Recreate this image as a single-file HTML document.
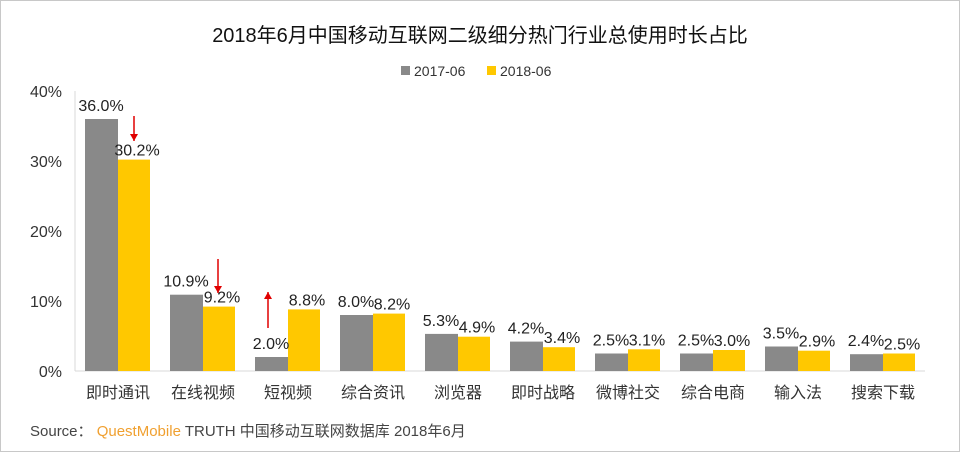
<!DOCTYPE html>
<html><head><meta charset="utf-8"><style>
body{margin:0;background:#fff;}
svg text{font-family:"Liberation Sans","Noto Sans CJK SC",sans-serif;}
</style></head><body>
<svg width="960" height="452" xmlns="http://www.w3.org/2000/svg">
<rect x="0.5" y="0.5" width="959" height="451" fill="#fff" stroke="#c8c8c8"/>
<text x="480" y="42" text-anchor="middle" font-size="20" fill="#111">2018年6月中国移动互联网二级细分热门行业总使用时长占比</text>
<g>
<rect x="401" y="66" width="9" height="9" fill="#898989"/>
<text x="414" y="76" font-size="14" fill="#333">2017-06</text>
<rect x="487" y="66" width="9" height="9" fill="#ffc800"/>
<text x="500" y="76" font-size="14" fill="#333">2018-06</text>
</g>
<g id="plot"></g>
<text x="30" y="436" font-size="15" fill="#444">Source： <tspan fill="#f0a030">QuestMobile</tspan> TRUTH 中国移动互联网数据库 2018年6月</text>
</svg>
<script>
const categories=["即时通讯","在线视频","短视频","综合资讯","浏览器","即时战略","微博社交","综合电商","输入法","搜索下载"];
const series2017=[36.0,10.9,2.0,8.0,5.3,4.2,2.5,2.5,3.5,2.4];
const series2018=[30.2,9.2,8.8,8.2,4.9,3.4,3.1,3.0,2.9,2.5];
const yTicks=[0,10,20,30,40];
const NS="http://www.w3.org/2000/svg";
const g=document.getElementById('plot');
const x0=75,band=85,y0=371,pxPer=7;
const y=v=>y0-v*pxPer;
function el(t,a,txt){const e=document.createElementNS(NS,t);for(const k in a)e.setAttribute(k,a[k]);if(txt!==undefined)e.textContent=txt;g.appendChild(e);return e;}
let ax=el('line',{x1:x0,y1:y(40),x2:x0,y2:y0,stroke:'#d9d9d9'});


let bx=el('line',{x1:x0,y1:y0,x2:x0+band*categories.length,y2:y0,stroke:'#d9d9d9'});


yTicks.forEach(t=>{let e=el('text',{x:62,y:y(t)+6,'text-anchor':'end','font-size':16,fill:'#333'},t+'%');

});
categories.forEach((c,i)=>{
 const bs=x0+band*i;
 const a=series2017[i],b=series2018[i];
 let r1=el('rect',{x:bs+10,y:y(a),width:33,height:a*pxPer,fill:'#898989'});
 
 
 let r2=el('rect',{x:bs+43,y:y(b),width:32,height:b*pxPer,fill:'#ffc800'});
 
 
 let l1=el('text',{x:bs+26,y:y(a)-8,'text-anchor':'middle','font-size':16,fill:'#222'},a.toFixed(1)+'%');
 
 
 let l2=el('text',{x:bs+62,y:y(b)-4,'text-anchor':'middle','font-size':16,fill:'#222'},b.toFixed(1)+'%');
 
 
 let cl=el('text',{x:bs+43,y:398,'text-anchor':'middle','font-size':16,fill:'#333'},c);
 
 
});
function arrow(xp,ya,yb,up){
 let l=el('line',{x1:xp,y1:ya,x2:xp,y2:yb,stroke:'#e00000','stroke-width':1.5});
 
 
 let tip=up?ya:yb, d=up?7:-7;
 let p=el('polygon',{points:`${xp-4},${tip+d} ${xp+4},${tip+d} ${xp},${tip}`,fill:'#e00000'});
 
 
}
arrow(134,116,141,false);
arrow(218,259,293,false);
arrow(268,292,328,true);
</script>
</body></html>
